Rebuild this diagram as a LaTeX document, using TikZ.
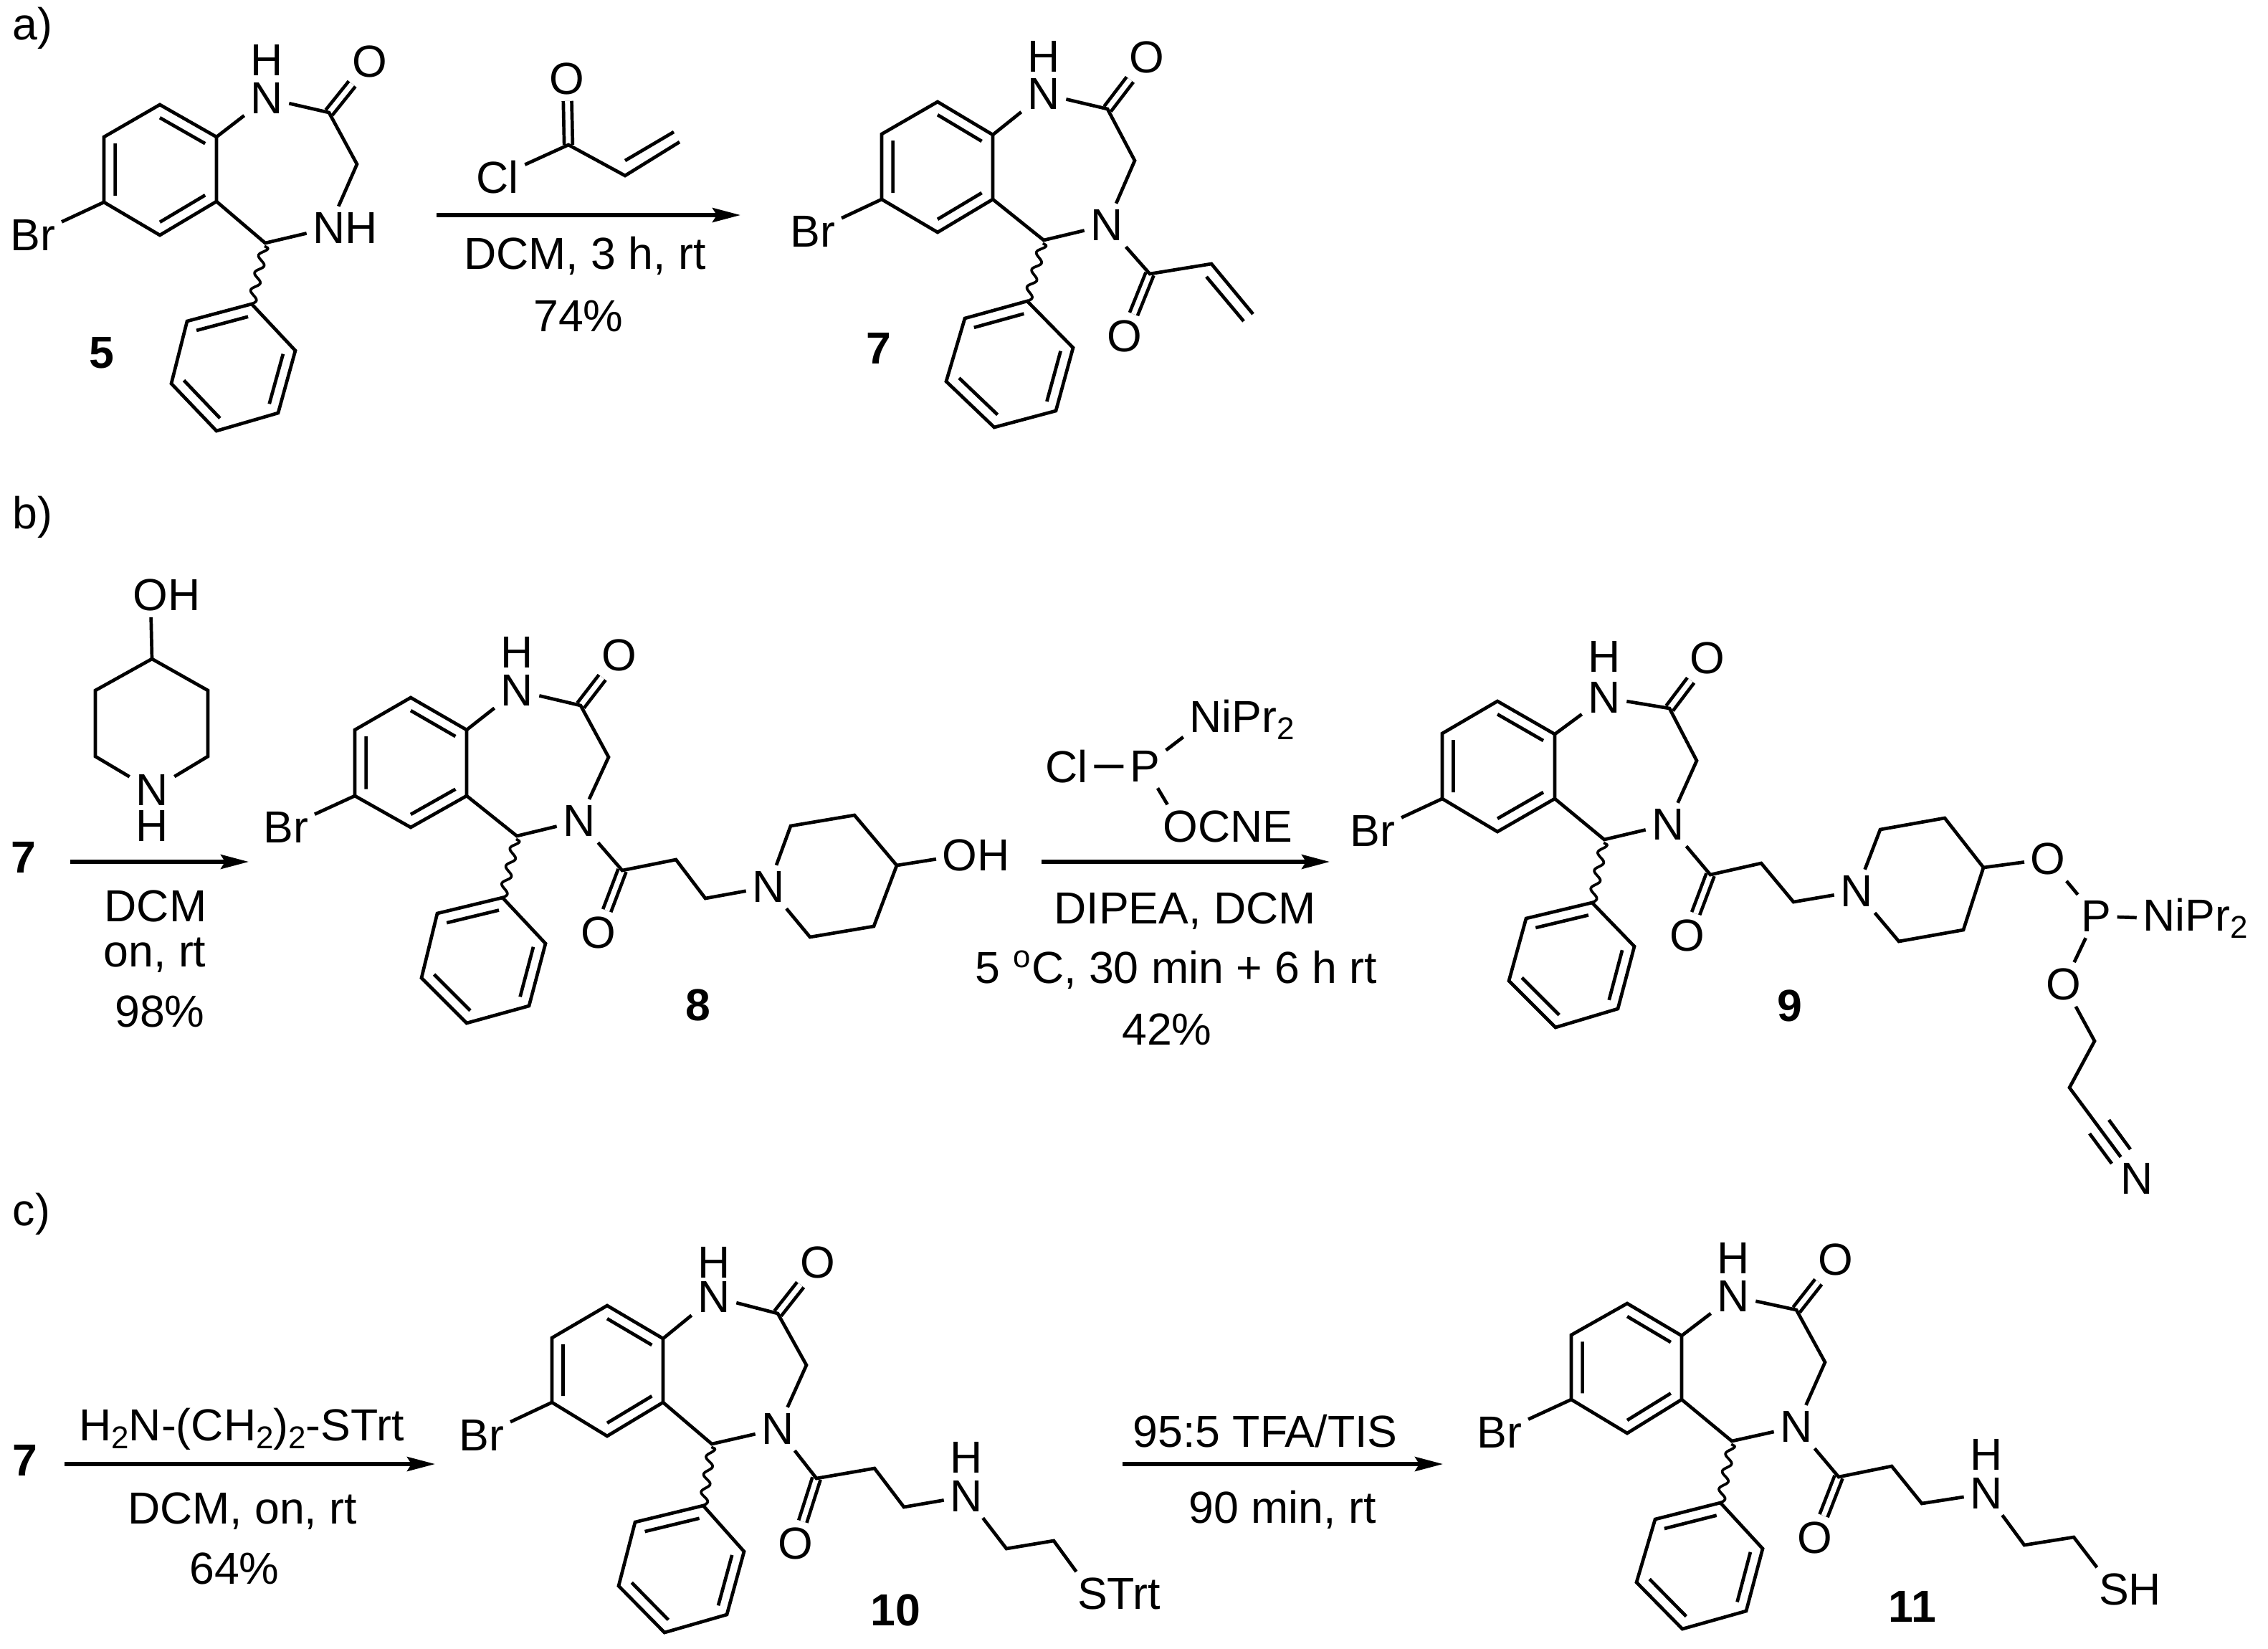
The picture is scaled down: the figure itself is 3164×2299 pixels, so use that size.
\documentclass[tikz,border=0pt]{standalone}
\usepackage{fontspec}
\setmainfont{Liberation Sans}
\usetikzlibrary{calc,arrows.meta}

\newcommand{\lowidx}[1]{\raisebox{-0.32ex}{\fontsize{12.5}{12.5}\selectfont #1}}

\tikzset{
    bond/.style={line width=0.047cm},
    dbond/.style={line width=0.047cm,double,double distance=0.07cm},
    wavy/.style={line width=0.037cm,line join=round},
    rxn/.style={line width=0.053cm,-{Stealth[length=0.39cm,width=0.2cm,inset=0.06cm]}},
    atom/.style={inner sep=0.08cm,font=\fontsize{17.8}{20}\selectfont},
    hatom/.style={inner sep=0pt,font=\fontsize{17.8}{20}\selectfont},
    txt/.style={inner sep=0pt,text depth=0pt,font=\fontsize{17.8}{20}\selectfont},
    cmpd/.style={inner sep=0pt,text depth=0pt,font=\fontsize{17.8}{20}\selectfont\bfseries},
}

% aromatic ring, double bonds on 1-2, 3-4, 5-6
\newcommand{\aring}[6]{
    \coordinate (ctr) at ($(#1)!.5!(#4)$);
    \draw[bond] (#1) -- (#2) -- (#3) -- (#4) -- (#5) -- (#6) -- cycle;
    \draw[bond] ($(#1)!.2!(ctr)$) -- ($(#2)!.2!(ctr)$) ($(#3)!.2!(ctr)$) -- ($(#4)!.2!(ctr)$) ($(#5)!.2!(ctr)$) -- ($(#6)!.2!(ctr)$);
}

% the bromo-phenyl-benzodiazepinone: prefix, text at N4, atom positions
\newcommand{\diazepine}[3]{
    \foreach \nm/\pt in {#3} {\coordinate (#1\nm) at (\pt);}
    \node[atom] (#1n1) at (#1pn1) {N};
    \node[hatom] (#1h1) at (#1ph1) {H};
    \node[atom] (#1o1) at (#1po1) {O};
    \node[atom] (#1br) at (#1pbr) {Br};
    \node[atom] (#1n4) at (#1pn4) {#2};
    \draw[dbond] (#1c2) -- (#1o1);
    \aring{#1a}{#1b}{#1c}{#1d}{#1e}{#1f}
    \aring{#1g}{#1h}{#1i}{#1j}{#1k}{#1l}
    \draw[bond] (#1e) -- (#1br);
    \draw[bond] (#1b) -- (#1n1) -- (#1c2) -- (#1c3) -- (#1n4) -- (#1c5) -- (#1c);
    \draw[wavy] ($(#1c5)!.05!(#1g)$) \foreach \t in {0.07,0.09,...,1.0} { -- ($(#1c5)!\t!(#1g)!{0.055cm*sin(\t*1260)}!90:(#1g)$) };
}

\begin{document}
\begin{tikzpicture}[x=0.01cm,y=-0.01cm]
    \useasboundingbox (0,0) rectangle (3164,2299);

    % a)
    \node[txt,anchor=west] (laba) at (17,33) {a)};
    \diazepine{p}{N\rlap{H}}{a/{223,146},b/{302,191},c/{302,281},d/{223,328},e/{145,282},f/{145,191},
        g/{351,424},h/{261,448},i/{239,535},j/{302,601},k/{388,576},l/{412,489},
        c2/{459,157},c3/{498,229},c5/{370,339},
        pn1/{372,137},ph1/{372,84},po1/{516,86},pbr/{46,328},pn4/{459,318}}
    \node[cmpd] (n5) at (142,492) {5};

    \node[atom] (clo) at (791,110) {O};
    \node[atom] (clcl) at (694,247) {Cl};
    \coordinate (clc) at (793,202);
    \coordinate (clv) at (872,245);
    \coordinate (clw) at (948,198);
    \draw[dbond] (clc) -- (clo);
    \draw[bond] (clcl) -- (clc) -- (clv) -- (clw);
    \draw[bond] (872,224) -- (940,184);

    \coordinate (ara) at (609,300);
    \coordinate (arb) at (1033,300);
    \draw[rxn] (ara) -- (arb);
    \node[txt] (ta1) at (816,353) {DCM, 3 h, rt};
    \node[txt] (ta2) at (807,441) {74\%};

    \diazepine{q}{N}{a/{1308,142},b/{1385,188},c/{1385,278},d/{1308,324},e/{1230,278},f/{1230,187},
        g/{1433,420},h/{1346,444},i/{1320,532},j/{1387,596},k/{1473,573},l/{1497,485},
        c2/{1545,152},c3/{1583,224},c5/{1456,335},
        pn1/{1456,131},ph1/{1456,79},po1/{1600,80},pbr/{1134,323},pn4/{1544,314}}
    \coordinate (qac) at (1604,382);
    \coordinate (qv) at (1690,368);
    \coordinate (qw) at (1748,438);
    \node[atom] (qo2) at (1569,469) {O};
    \draw[dbond] (qac) -- (qo2);
    \draw[bond] (qn4) -- (qac) -- (qv) -- (qw);
    \draw[bond] (1683,386) -- (1735,448);
    \node[cmpd] (n7) at (1226,486) {7};

    % b)
    \node[txt,anchor=west] (labb) at (17,715) {b)};
    \node[atom] (pipo) at (210,830) {O\rlap{H}};
    \node[atom] (pipn) at (212,1102) {N};
    \node[hatom] (piph) at (212,1152) {H};
    \coordinate (pipa) at (212,919);
    \coordinate (pipb) at (290,963);
    \coordinate (pipc) at (290,1055);
    \coordinate (pipd) at (133,1055);
    \coordinate (pipe) at (133,963);
    \draw[bond] (pipo) -- (pipa);
    \draw[bond] (pipn) -- (pipc) -- (pipb) -- (pipa) -- (pipe) -- (pipd) -- (pipn);

    \node[cmpd] (n7b) at (33,1196) {7};
    \coordinate (brc) at (98,1202);
    \coordinate (brd) at (347,1202);
    \draw[rxn] (brc) -- (brd);
    \node[txt] (tb1) at (217,1264) {DCM};
    \node[txt] (tb2) at (216,1328) {on, rt};
    \node[txt] (tb3) at (223,1411) {98\%};

    \diazepine{r}{N}{a/{573,973},b/{651,1018},c/{651,1110},d/{573,1154},e/{495,1110},f/{495,1018},
        g/{701,1252},h/{610,1274},i/{588,1364},j/{651,1427},k/{738,1403},l/{761,1316},
        c2/{810,984},c3/{849,1056},c5/{721,1166},
        pn1/{721,963},ph1/{721,910},po1/{864,914},pbr/{399,1154},pn4/{808,1145}}
    \coordinate (rac) at (868,1214);
    \coordinate (rm1) at (943,1199);
    \coordinate (rm2) at (984,1253);
    \node[atom] (ro2) at (835,1301) {O};
    \node[atom] (rn) at (1072,1237) {N};
    \node[atom] (roh) at (1339,1193) {O\rlap{H}};
    \coordinate (rpa) at (1103,1152);
    \coordinate (rpb) at (1192,1137);
    \coordinate (rpc) at (1251,1207);
    \coordinate (rpd) at (1219,1292);
    \coordinate (rpe) at (1130,1307);
    \draw[dbond] (rac) -- (ro2);
    \draw[bond] (rn4) -- (rac) -- (rm1) -- (rm2) -- (rn);
    \draw[bond] (rn) -- (rpa) -- (rpb) -- (rpc) -- (rpd) -- (rpe) -- (rn);
    \draw[bond] (rpc) -- (roh);
    \node[cmpd] (n8) at (974,1402) {8};

    \node[atom] (pcl) at (1488,1069) {Cl};
    \node[atom] (pp) at (1597,1069) {P};
    \node[atom] (pni) at (1682,1004) {N\rlap{iPr\lowidx{2}}};
    \node[atom] (poc) at (1647,1153) {O\rlap{CNE}};
    \draw[bond] (pcl) -- (pp) -- (pni);
    \draw[bond] (pp) -- (poc);
    \coordinate (bre) at (1453,1202);
    \coordinate (brf) at (1855,1202);
    \draw[rxn] (bre) -- (brf);
    \node[txt] (tb4) at (1653,1267) {DIPEA, DCM};
    \node[txt] (tb5) at (1641,1349) {5 \textsuperscript{o}C, 30 min + 6 h rt};
    \node[txt] (tb6) at (1628,1436) {42\%};

    \diazepine{s}{N}{a/{2089,978},b/{2169,1024},c/{2169,1114},d/{2089,1160},e/{2012,1114},f/{2012,1023},
        g/{2221,1259},h/{2129,1281},i/{2105,1368},j/{2170,1433},k/{2257,1407},l/{2280,1320},
        c2/{2329,988},c3/{2367,1061},c5/{2238,1171},
        pn1/{2238,973},ph1/{2238,916},po1/{2382,918},pbr/{1915,1159},pn4/{2327,1150}}
    \coordinate (sac) at (2386,1220);
    \coordinate (sm1) at (2457,1204);
    \coordinate (sm2) at (2502,1258);
    \node[atom] (so2) at (2354,1305) {O};
    \node[atom] (sn) at (2590,1243) {N};
    \coordinate (spa) at (2623,1157);
    \coordinate (spb) at (2713,1141);
    \coordinate (spc) at (2767,1210);
    \coordinate (spd) at (2739,1297);
    \coordinate (spe) at (2649,1313);
    \node[atom] (so3) at (2857,1198) {O};
    \node[atom] (sp) at (2924,1278) {P};
    \node[atom] (sni) at (3012,1281) {N\rlap{iPr\lowidx{2}}};
    \node[atom] (so4) at (2879,1373) {O};
    \coordinate (se1) at (2922,1452);
    \coordinate (se2) at (2887,1517);
    \node[atom] (scnn) at (2981,1644) {N};
    \draw[dbond] (sac) -- (so2);
    \draw[bond] (sn4) -- (sac) -- (sm1) -- (sm2) -- (sn);
    \draw[bond] (sn) -- (spa) -- (spb) -- (spc) -- (spd) -- (spe) -- (sn);
    \draw[bond] (spc) -- (so3) -- (sp) -- (so4) -- (se1) -- (se2) -- (scnn);
    \draw[bond] (sp) -- (sni);
    \draw[bond] (2942,1562) -- (2972,1603) (2915,1581) -- (2946,1623);
    \node[cmpd] (n9) at (2497,1403) {9};

    % c)
    \node[txt,anchor=west] (labc) at (17,1687) {c)};
    \node[cmpd] (n7c) at (35,2037) {7};
    \coordinate (crg) at (90,2042);
    \coordinate (crh) at (607,2042);
    \draw[rxn] (crg) -- (crh);
    \node[txt] (tc1) at (337,1987) {H\lowidx{2}N-(CH\lowidx{2})\lowidx{2}-STrt};
    \node[txt] (tc2) at (338,2104) {DCM, on, rt};
    \node[txt] (tc3) at (327,2188) {64\%};

    \diazepine{t}{N}{a/{847,1821},b/{925,1867},c/{925,1956},d/{847,2003},e/{770,1956},f/{770,1866},
        g/{981,2100},h/{886,2123},i/{863,2212},j/{927,2277},k/{1014,2252},l/{1038,2164},
        c2/{1085,1832},c3/{1125,1904},c5/{993,2014},
        pn1/{996,1809},ph1/{996,1761},po1/{1141,1761},pbr/{672,2002},pn4/{1085,1993}}
    \coordinate (tac) at (1139,2062);
    \coordinate (tm1) at (1220,2048);
    \coordinate (tm2) at (1261,2102);
    \node[atom] (to2) at (1110,2153) {O};
    \node[atom] (tnh) at (1348,2087) {N};
    \node[hatom] (thh) at (1348,2033) {H};
    \coordinate (tm3) at (1404,2160);
    \coordinate (tm4) at (1470,2149);
    \node[atom] (ts) at (1524,2223) {S\rlap{Trt}};
    \draw[dbond] (tac) -- (to2);
    \draw[bond] (tn4) -- (tac) -- (tm1) -- (tm2) -- (tnh) -- (tm3) -- (tm4) -- (ts);
    \node[cmpd] (n10) at (1249,2246) {10};

    \coordinate (cri) at (1566,2042);
    \coordinate (crj) at (2013,2042);
    \draw[rxn] (cri) -- (crj);
    \node[txt] (tc4) at (1765,1996) {95:5 TFA/TIS};
    \node[txt] (tc5) at (1789,2102) {90 min, rt};

    \diazepine{u}{N}{a/{2270,1818},b/{2346,1863},c/{2346,1952},d/{2270,1999},e/{2192,1952},f/{2192,1862},
        g/{2400,2096},h/{2309,2119},i/{2283,2207},j/{2347,2272},k/{2436,2247},l/{2459,2160},
        c2/{2506,1827},c3/{2546,1900},c5/{2416,2010},
        pn1/{2418,1808},ph1/{2418,1755},po1/{2561,1757},pbr/{2092,1998},pn4/{2506,1990}}
    \coordinate (uac) at (2565,2060);
    \coordinate (um1) at (2639,2045);
    \coordinate (um2) at (2681,2097);
    \node[atom] (uo2) at (2532,2145) {O};
    \node[atom] (unh) at (2771,2083) {N};
    \node[hatom] (uhh) at (2771,2029) {H};
    \coordinate (um3) at (2824,2155);
    \coordinate (um4) at (2893,2144);
    \node[atom] (us) at (2949,2217) {S\rlap{H}};
    \draw[dbond] (uac) -- (uo2);
    \draw[bond] (un4) -- (uac) -- (um1) -- (um2) -- (unh) -- (um3) -- (um4) -- (us);
    \node[cmpd] (n11) at (2668,2241) {11};
\end{tikzpicture}
\end{document}
